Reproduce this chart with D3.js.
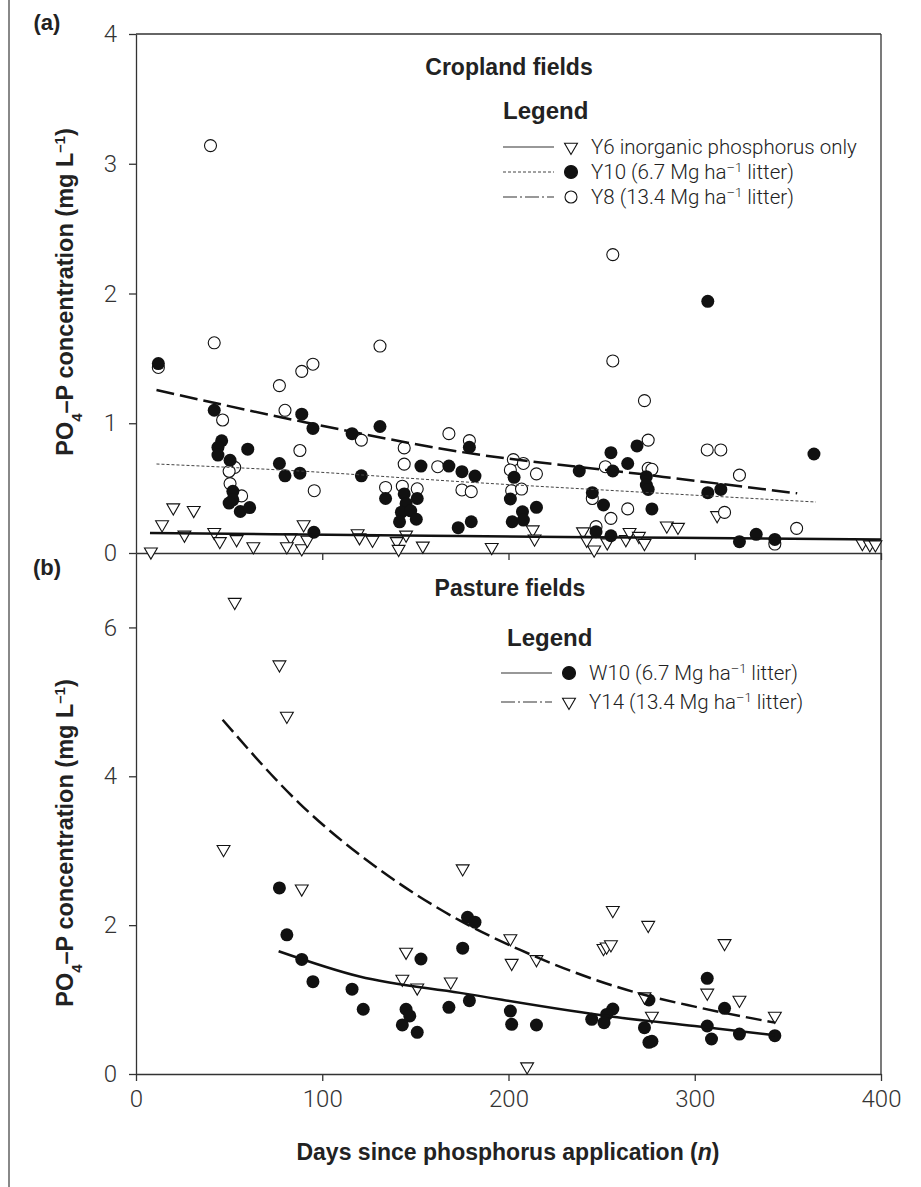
<!DOCTYPE html>
<html>
<head>
<meta charset="utf-8">
<script src="https://cdn.jsdelivr.net/npm/d3@7"></script>
<style>
  body { margin: 0; background: #fff; }
  svg text { fill: #222; }
  .tick text { font-family: Roboto, "Liberation Sans", sans-serif; font-weight: 300; font-size: 24px; fill: #333; }
  .bold { font-family: "Liberation Sans", Arial, sans-serif; font-weight: bold; }
  .legtext { font-family: Roboto, "Liberation Sans", sans-serif; font-weight: 300; font-size: 20.5px; }
</style>
</head>
<body>
<svg id="chart" width="921" height="1187"></svg>
<script>
// panel (a) cropland fields: [days, PO4-P mg/L]
const cropY6 = [[8,0.01],[14,0.22],[20,0.35],[31,0.33],[26,0.14],[42,0.16],[45,0.09],[54,0.105],[63,0.05],
  [90,0.22],[83,0.12],[81,0.05],[89,0.035],[92,0.10],[119,0.15],[120,0.12],[127,0.10],[140,0.09],[141,0.03],
  [145,0.14],[154,0.055],[191,0.045],[213,0.18],[214,0.11],[240,0.165],[242,0.10],[246,0.025],[253,0.08],
  [263,0.105],[265,0.16],[270,0.13],[273,0.075],[285,0.21],[291,0.20],[312,0.29],[390,0.075],[394,0.065],[397,0.065]];
const cropY10 = [[12,1.46],[42,1.10],[89,1.07],[95,0.96],[116,0.92],[131,0.975],[46,0.865],[44,0.815],[44,0.755],
  [60,0.80],[50.5,0.715],[77,0.69],[80,0.595],[88,0.615],[121,0.595],[153,0.67],[168,0.67],[175,0.627],[52,0.475],
  [52,0.41],[50,0.385],[56,0.32],[61,0.35],[134,0.42],[144,0.455],[151,0.42],[145,0.38],[142.5,0.315],[147.5,0.325],
  [141.5,0.24],[150.5,0.26],[95.5,0.16],[173,0.195],[307,1.94],[364,0.763],[179,0.815],[182,0.593],[203,0.583],
  [201,0.416],[207.5,0.318],[215,0.352],[202,0.241],[208,0.254],[180,0.241],[238,0.632],[255,0.773],[264,0.69],
  [269,0.825],[256,0.632],[274,0.588],[274,0.524],[275,0.49],[245,0.465],[251,0.37],[277,0.34],[247,0.164],
  [255,0.133],[307,0.465],[314,0.49],[324,0.087],[333,0.144],[343,0.105]];
const cropY8 = [[40,3.14],[42,1.62],[12,1.43],[131,1.595],[77,1.29],[89,1.40],[95,1.455],[80,1.10],[46.5,1.025],
  [121,0.87],[88,0.79],[144,0.81],[144,0.685],[168,0.92],[162,0.665],[53,0.66],[50,0.63],[50.5,0.535],[56.7,0.44],
  [95.7,0.48],[134,0.505],[143,0.515],[151,0.495],[175,0.486],[179,0.866],[202.6,0.72],[208,0.69],[215,0.61],
  [201,0.64],[201.7,0.48],[207,0.493],[180,0.473],[252,0.665],[275,0.87],[275,0.653],[277,0.645],[273,1.174],
  [256,1.48],[256,2.30],[306.7,0.794],[314,0.794],[324,0.60],[316,0.313],[354.7,0.19],[343,0.069],[245,0.42],
  [264,0.34],[255,0.267],[247,0.203]];

// fitted trend lines
const cropY6Fit = [[7.5,0.155],[90,0.142],[174,0.131],[290,0.117],[400,0.105]];
const cropY10Fit = [[11,0.686],[90,0.63],[174,0.55],[270,0.47],[365,0.393]];
const cropY8Fit = [[11,1.256],[90,1.01],[174,0.78],[270,0.61],[355,0.46]];

// panel (b) pasture fields
const pastureW10 = [[77,2.50],[81,1.87],[89,1.54],[95,1.24],[116,1.14],[122,0.87],[145,0.87],[147,0.78],[143,0.66],
  [151,0.56],[153,1.545],[168,0.896],[175.4,1.69],[178,2.105],[182,2.04],[179,0.985],[201,0.846],[201.7,0.667],
  [215,0.658],[256,0.873],[252.7,0.80],[244.7,0.735],[251.3,0.69],[275.4,0.994],[273,0.622],[275.4,0.426],
  [277,0.44],[306.7,1.286],[306.7,0.645],[309,0.47],[316,0.882],[324,0.537],[343,0.515]];
const pastureY14 = [[53,6.34],[77,5.50],[81,4.81],[47,3.02],[89,2.49],[145,1.64],[143,1.276],[151,1.16],[169,1.24],
  [175.4,2.76],[201,1.82],[201.7,1.49],[215,1.54],[256,2.20],[251,1.69],[252.7,1.71],[255,1.74],[275,2.0],
  [273,1.04],[277,0.78],[306.7,1.09],[316,1.756],[324,0.994],[343,0.78],[210,0.1]];
const pastureW10Fit = [[76.6,1.65],[120,1.31],[174,1.09],[256,0.77],[300,0.645],[343,0.52]];
const pastureY14Fit = [[46.5,4.76],[88,3.63],[130,2.76],[174,2.06],[206,1.67],[269,1.09],[300,0.905],[343,0.69]];

const xTicks = [0, 100, 200, 300, 400];
const yTicksA = [0, 1, 2, 3, 4];
const yTicksB = [0, 2, 4, 6];

const svg = d3.select("#chart");
const left = 136, right = 881;

const x = d3.scaleLinear().domain([0, 400]).range([left, right]);
const yA = d3.scaleLinear().domain([0, 4]).range([553, 34]);
const yB = d3.scaleLinear().domain([0, 7]).range([1074, 553]);

// page rule on the far left
svg.append("line").attr("x1", 9).attr("x2", 9).attr("y1", 0).attr("y2", 1187)
  .attr("stroke", "#888").attr("stroke-width", 2);

function styleAxis(g) {
  g.selectAll("path, line").attr("stroke", "#333").attr("stroke-width", 1.3);
}

// panel a axes
svg.append("g").attr("transform", `translate(${left},0)`)
  .call(d3.axisLeft(yA).tickValues(yTicksA).tickFormat(d3.format("d")).tickSize(7).tickSizeOuter(0).tickPadding(12))
  .call(styleAxis);
svg.append("g").attr("transform", `translate(0,${yA(0)})`)
  .call(d3.axisBottom(x).tickValues(xTicks.slice(1)).tickSize(7).tickSizeOuter(0).tickFormat(""))
  .call(styleAxis);

// panel b axes
svg.append("g").attr("transform", `translate(${left},0)`)
  .call(d3.axisLeft(yB).tickValues(yTicksB).tickFormat(d3.format("d")).tickSize(7).tickSizeOuter(0).tickPadding(12))
  .call(styleAxis);
svg.append("g").attr("transform", `translate(0,${yB(0)})`)
  .call(d3.axisBottom(x).tickValues(xTicks).tickFormat(d3.format("d")).tickSize(7).tickSizeOuter(0).tickPadding(9))
  .call(styleAxis);

// frame top and right
svg.append("line").attr("x1", left).attr("x2", right).attr("y1", yA(4)).attr("y2", yA(4))
  .attr("stroke", "#333").attr("stroke-width", 1.3);
svg.append("line").attr("x1", right).attr("x2", right).attr("y1", yA(4)).attr("y2", yB(0))
  .attr("stroke", "#333").attr("stroke-width", 1.3);

const tri = d3.symbol().type(d3.symbolTriangle).size(72);

function openCircles(data, y) {
  svg.append("g").selectAll("circle").data(data).join("circle")
    .attr("cx", d => x(d[0])).attr("cy", d => y(d[1])).attr("r", 6)
    .attr("fill", "#fff").attr("stroke", "#111").attr("stroke-width", 1.1);
}
function filledCircles(data, y) {
  svg.append("g").selectAll("circle").data(data).join("circle")
    .attr("cx", d => x(d[0])).attr("cy", d => y(d[1])).attr("r", 6.5)
    .attr("fill", "#111");
}
function triangles(data, y) {
  svg.append("g").selectAll("path").data(data).join("path")
    .attr("d", tri)
    .attr("transform", d => `translate(${x(d[0])},${y(d[1])}) rotate(180)`)
    .attr("fill", "#fff").attr("stroke", "#111").attr("stroke-width", 1.1);
}
function fitLine(data, y, dash, width, color) {
  svg.append("path").datum(data)
    .attr("d", d3.line().x(d => x(d[0])).y(d => y(d[1])).curve(d3.curveMonotoneX))
    .attr("fill", "none").attr("stroke", color).attr("stroke-width", width)
    .attr("stroke-dasharray", dash);
}

triangles(cropY6, yA);
openCircles(cropY8, yA);
filledCircles(cropY10, yA);
fitLine(cropY6Fit, yA, null, 2.5, "#111");
fitLine(cropY10Fit, yA, "3,2", 1, "#444");
fitLine(cropY8Fit, yA, "18,6", 2.5, "#111");

filledCircles(pastureW10, yB);
triangles(pastureY14, yB);
fitLine(pastureW10Fit, yB, null, 2.5, "#111");
fitLine(pastureY14Fit, yB, "16,6", 2.5, "#111");

// titles and panel letters
svg.append("text").attr("class", "bold").attr("x", 47).attr("y", 30)
  .attr("text-anchor", "middle").style("font-size", "22px").text("(a)");
svg.append("text").attr("class", "bold").attr("x", 47).attr("y", 575)
  .attr("text-anchor", "middle").style("font-size", "22px").text("(b)");

svg.append("text").attr("class", "bold").attr("x", 509).attr("y", 75)
  .attr("text-anchor", "middle").style("font-size", "23px").text("Cropland fields");
svg.append("text").attr("class", "bold").attr("x", 510).attr("y", 596)
  .attr("text-anchor", "middle").style("font-size", "23px").text("Pasture fields");

function yTitle(cy) {
  const t = svg.append("text").attr("class", "bold")
    .attr("transform", `translate(65,${cy}) rotate(-90)`)
    .attr("text-anchor", "middle").attr("dy", "0.35em").style("font-size", "23.5px");
  t.append("tspan").text("PO");
  t.append("tspan").attr("baseline-shift", "sub").style("font-size", "15px").text("4");
  t.append("tspan").text("–P concentration (mg L");
  t.append("tspan").attr("baseline-shift", "super").style("font-size", "15px").text("–1");
  t.append("tspan").text(")");
}
yTitle(292);
yTitle(843);

const xt = svg.append("text").attr("class", "bold").attr("x", 508).attr("y", 1160)
  .attr("text-anchor", "middle").style("font-size", "23px");
xt.append("tspan").text("Days since phosphorus application (");
xt.append("tspan").style("font-style", "italic").text("n");
xt.append("tspan").text(")");

// legends
function legend(title, titleX, titleY, rows) {
  svg.append("text").attr("class", "bold").attr("x", titleX).attr("y", titleY)
    .style("font-size", "24px").text(title);
  rows.forEach(r => {
    svg.append("line").attr("x1", r.x0).attr("x2", r.x0 + 51).attr("y1", r.y).attr("y2", r.y)
      .attr("stroke", r.color).attr("stroke-width", r.width).attr("stroke-dasharray", r.dash);
    const mx = r.x0 + 68;
    if (r.mark === "tri") {
      svg.append("path").attr("d", tri).attr("transform", `translate(${mx},${r.y}) rotate(180)`)
        .attr("fill", "#fff").attr("stroke", "#111").attr("stroke-width", 1.1);
    } else {
      svg.append("circle").attr("cx", mx).attr("cy", r.y).attr("r", r.mark === "open" ? 6 : 6.5)
        .attr("fill", r.mark === "open" ? "#fff" : "#111").attr("stroke", "#111").attr("stroke-width", 1.1);
    }
    const t = svg.append("text").attr("class", "legtext").attr("x", r.x0 + 88).attr("y", r.y).attr("dy", "0.35em");
    r.label.forEach(p => {
      const s = t.append("tspan").text(p[0]);
      if (p[1]) s.attr("baseline-shift", "super").style("font-size", "13px");
    });
  });
}

legend("Legend", 503, 119, [
  {x0: 503, y: 147, mark: "tri", dash: null, width: 1.2, color: "#333", label: [["Y6 inorganic phosphorus only"]]},
  {x0: 503, y: 172, mark: "fill", dash: "3,2", width: 1, color: "#444", label: [["Y10 (6.7 Mg ha"], ["–1", true], [" litter)"]]},
  {x0: 503, y: 197, mark: "open", dash: "14,3,2,3", width: 1.2, color: "#333", label: [["Y8 (13.4 Mg ha"], ["–1", true], [" litter)"]]}
]);
legend("Legend", 507, 646, [
  {x0: 501, y: 673, mark: "fill", dash: null, width: 1.2, color: "#333", label: [["W10 (6.7 Mg ha"], ["–1", true], [" litter)"]]},
  {x0: 501, y: 702, mark: "tri", dash: "14,3,2,3", width: 1.2, color: "#333", label: [["Y14 (13.4 Mg ha"], ["–1", true], [" litter)"]]}
]);
</script>
</body>
</html>
